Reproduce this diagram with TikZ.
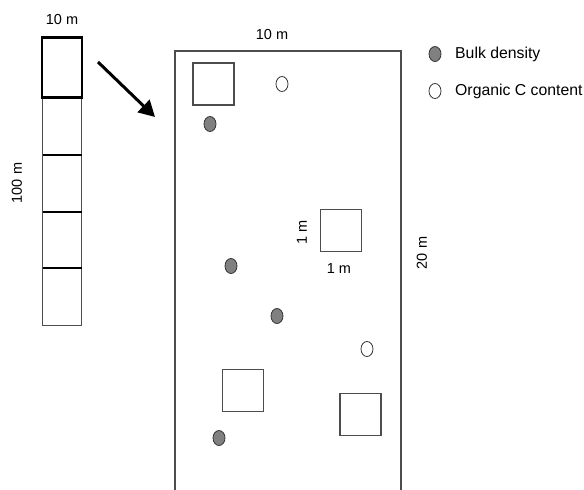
\documentclass[tikz,border=0pt]{standalone}
\usepackage{fontspec}
\setmainfont{Liberation Sans}
\usetikzlibrary{shapes.geometric,arrows.meta}
\definecolor{edgegray}{HTML}{4D4D4D}
\definecolor{dotgray}{HTML}{808080}
\tikzset{
  lbl/.style={font=\fontsize{14.5}{17}\selectfont, inner sep=0pt},
  leglbl/.style={font=\fontsize{15.8}{19}\selectfont, inner sep=0pt, anchor=west},
  sq/.style={draw=edgegray, line width=1.1pt, minimum width=41pt, minimum height=42pt, inner sep=0pt},
  bd/.style={ellipse, draw=black!80, line width=0.8pt, fill=dotgray, minimum width=12pt, minimum height=15pt, inner sep=0pt},
  oc/.style={ellipse, draw=black!80, line width=0.8pt, fill=white, minimum width=12pt, minimum height=15pt, inner sep=0pt},
}
\begin{document}
\begin{tikzpicture}[x=1pt,y=-1pt]
\useasboundingbox (0,0) rectangle (584,490);
% left transect column
\draw[edgegray, line width=1pt] (42.5,98) -- (42.5,325) -- (81.5,325) -- (81.5,98);
\foreach \yy in {155,212,268}{\draw[black, line width=1.2pt] (42.5,\yy) -- (81.5,\yy);}
\node[draw=black, line width=2.4pt, minimum width=40pt, minimum height=60pt, inner sep=0pt] (top) at (62,67.5) {};
\node[lbl] (w10) at (62,20) {10 m};
\node[lbl, rotate=90] (h100) at (17,183) {100 m};
% arrow
\coordinate (as) at (98,62);
\coordinate (ae) at (155,117);
\draw[line width=3pt, -{Triangle[length=16pt,width=17pt]}] (as) -- (ae);
% big plot
\draw[edgegray, line width=1.2pt] (175,490) -- (175,51) -- (401,51) -- (401,490);
\node[lbl] (w10b) at (272,35) {10 m};
\node[lbl, rotate=90] (h20) at (422,253) {20 m};
% 1 m squares
\node[sq] (s1) at (213.5,84) {};
\node[sq] (s2) at (341,230.5) {};
\node[sq] (s3) at (243,390.5) {};
\node[sq] (s4) at (360.5,414.5) {};
\node[lbl, rotate=90] (s2h) at (302,232) {1 m};
\node[lbl] (s2w) at (339,269) {1 m};
% samples
\node[oc] (o1) at (282,84) {};
\node[oc] (o2) at (367,349) {};
\node[bd] (b1) at (210,124) {};
\node[bd] (b2) at (231,266) {};
\node[bd] (b3) at (277,316) {};
\node[bd] (b4) at (219,438) {};
% legend
\node[bd] (lb) at (435,54) {};
\node[leglbl] (lbt) at (455,54) {Bulk density};
\node[oc] (lo) at (435,91) {};
\node[leglbl] (lot) at (455,91) {Organic C content};
\end{tikzpicture}
\end{document}
